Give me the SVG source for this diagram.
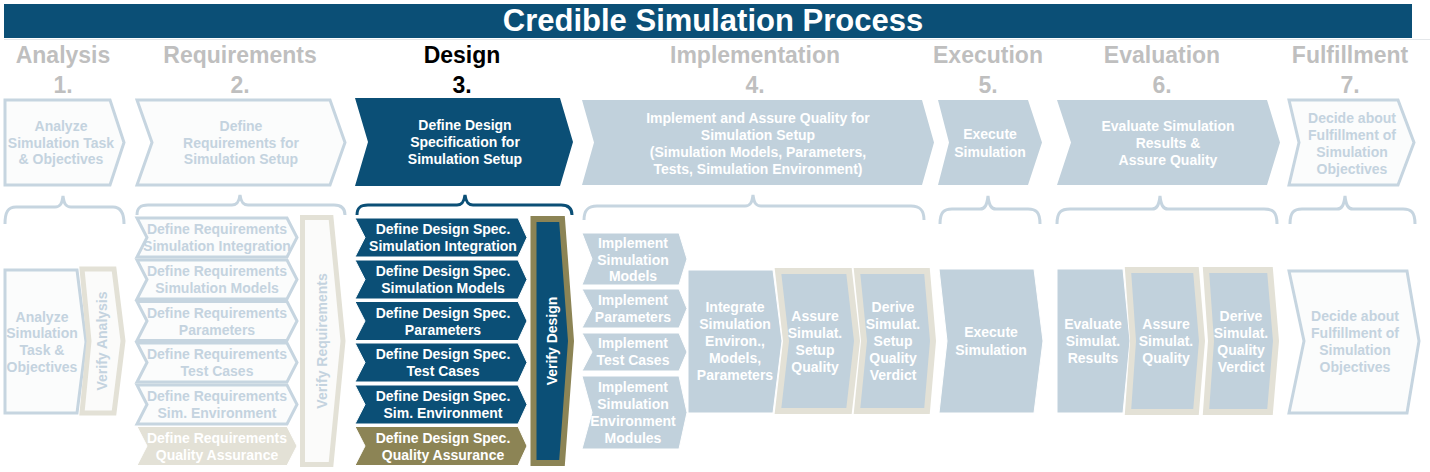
<svg xmlns="http://www.w3.org/2000/svg" width="1430" height="472" viewBox="0 0 1430 472">
<style>
text{font-family:"Liberation Sans",Arial,sans-serif;font-weight:bold;text-anchor:middle}
.title{font-size:31px;fill:#fff}
.head{font-size:23px;fill:#bfbfbf}
.headA{font-size:23px;fill:#000}
.s{font-size:14px}
.w{fill:#fff}
.p{fill:#c4d3df}
.outline{fill:#fbfcfc;stroke:#c6d5e0;stroke-width:3;stroke-linejoin:miter}
.lb{fill:#c1d1dc;stroke:#fff;stroke-width:1}
.db{fill:#0b4f76;stroke:#fff;stroke-width:1}
.ol{fill:#8c8455;stroke:#fff;stroke-width:1}
.bg{fill:#e3e1d6;stroke:#fff;stroke-width:1}
.ring{fill:#c1d1dc;stroke:#e3e1d6;stroke-width:6}
.vring{fill:#fbfbfa;stroke:#e3e1d6;stroke-width:5}
.brace{fill:none;stroke:#c6d5e0;stroke-width:3}
</style>
<rect x="0" y="0" width="1430" height="472" fill="#fff"/>
<g id="title">
<rect x="4" y="4" width="1408" height="34" fill="#0b4f76"/>
<line x1="4" y1="39.5" x2="1430" y2="39.5" stroke="#e4e7ea" stroke-width="1"/>
<text class="title" x="713" y="30.5">Credible Simulation Process</text>
</g>
<g id="headings">
<text class="head" x="63" y="63">Analysis</text><text class="head" x="63" y="93">1.</text>
<text class="head" x="240" y="63">Requirements</text><text class="head" x="240" y="93">2.</text>
<text class="headA" x="462" y="63">Design</text><text class="headA" x="462" y="93">3.</text>
<text class="head" x="755" y="63">Implementation</text><text class="head" x="755" y="93">4.</text>
<text class="head" x="988" y="63">Execution</text><text class="head" x="988" y="93">5.</text>
<text class="head" x="1162" y="63">Evaluation</text><text class="head" x="1162" y="93">6.</text>
<text class="head" x="1350" y="63">Fulfillment</text><text class="head" x="1350" y="93">7.</text>
</g>
<g id="phase1">
<path class="outline" d="M5,100 L110,100 L124,142.5 L110,185 L5,185 Z"/>
<text class="s p" x="61" y="131">Analyze</text><text class="s p" x="61" y="148">Simulation Task</text><text class="s p" x="61" y="164">&amp; Objectives</text>
</g>
<g id="phase2">
<path class="outline" d="M137,100 L330,100 L345,142.5 L330,185 L137,185 L152,142.5 Z"/>
<text class="s p" x="241" y="131">Define</text><text class="s p" x="241" y="148">Requirements for</text><text class="s p" x="241" y="164">Simulation Setup</text>
</g>
<g id="phase3">
<path d="M355,98 L560,98 L573,142 L560,186 L355,186 L368,142 Z" fill="#0b4f76"/>
<text class="s w" x="465" y="130">Define Design</text><text class="s w" x="465" y="147">Specification for</text><text class="s w" x="465" y="164">Simulation Setup</text>
</g>
<g id="phase4">
<path d="M582,100 L922,100 L934,142.5 L922,185 L582,185 L594,142.5 Z" fill="#c1d1dc"/>
<text class="s w" x="758" y="123">Implement and Assure Quality for</text><text class="s w" x="758" y="140">Simulation Setup</text><text class="s w" x="758" y="157">(Simulation Models, Parameters,</text><text class="s w" x="758" y="174">Tests, Simulation Environment)</text>
</g>
<g id="phase5">
<path d="M938,100 L1028,100 L1042,142.5 L1028,185 L938,185 L949,142.5 Z" fill="#c1d1dc"/>
<text class="s w" x="990" y="139">Execute</text><text class="s w" x="990" y="157">Simulation</text>
</g>
<g id="phase6">
<path d="M1057,100 L1267,100 L1280,142.5 L1267,185 L1057,185 L1071,142.5 Z" fill="#c1d1dc"/>
<text class="s w" x="1168" y="131">Evaluate Simulation</text><text class="s w" x="1168" y="148">Results &amp;</text><text class="s w" x="1168" y="165">Assure Quality</text>
</g>
<g id="phase7">
<path class="outline" d="M1289,100 L1398,100 L1414,142.5 L1398,185 L1289,185 L1299,142.5 Z"/>
<text class="s p" x="1352" y="123">Decide about</text><text class="s p" x="1352" y="140">Fulfillment of</text><text class="s p" x="1352" y="157">Simulation</text><text class="s p" x="1352" y="174">Objectives</text>
</g>
<g id="connectors">
<path class="brace" d="M5,224 C5,212 8,207 16,207 L55,207 C60,207 62,204 63,196 C64,204 66,207 71,207 L113,207 C120,207 124,212 124,224"/>
<path class="brace" d="M137,215 C137,208 140,205 148,205 L232,205 C237,205 239,202 240,195 C241,202 243,205 248,205 L334,205 C341,205 345,208 345,215"/>
<path class="brace" d="M357,215 C357,208 360,205 368,205 L457,205 C462,205 464,202 465,195 C466,202 468,205 473,205 L561,205 C568,205 572,208 572,215" style="stroke:#0b4f76"/>
<path class="brace" d="M584,220 C584,210 588,206 597,206 L745,206 C750,206 752,203 753,195 C754,203 756,206 761,206 L911,206 C920,206 924,210 924,220"/>
<path class="brace" d="M940,224 C940,212 944,209 952,209 L980,209 C985,209 987,205 988,196 C989,205 991,209 996,209 L1028,209 C1036,209 1040,212 1040,224"/>
<path class="brace" d="M1057,224 C1057,212 1061,209 1070,209 L1152,209 C1157,209 1159,205 1160,196 C1161,205 1163,209 1168,209 L1264,209 C1273,209 1277,212 1277,224"/>
<path class="brace" d="M1290,224 C1290,212 1294,209 1302,209 L1337,209 C1342,209 1344,205 1345,196 C1346,205 1348,209 1353,209 L1403,209 C1411,209 1415,212 1415,224"/>
</g>
<g id="analyze">
<path class="outline" d="M5,270 L77,270 L86,342 L77,413 L5,413 Z"/>
<text class="s p" x="42" y="322">Analyze</text><text class="s p" x="42" y="338">Simulation</text><text class="s p" x="42" y="355">Task &amp;</text><text class="s p" x="42" y="372">Objectives</text>
</g>
<g id="verify-analysis">
<path class="vring" d="M82,269 L114,269 L123,341 L114,413 L82,413 L89,341 Z"/>
<text class="s p" transform="translate(107,341) rotate(-90)">Verify Analysis</text>
</g>
<g id="req-items">
<path class="outline" d="M137,218 L287,218 L297,237.5 L287,257 L137,257 L147,237.5 Z"/>
<text class="s p" x="217" y="234">Define Requirements</text><text class="s p" x="217" y="251">Simulation Integration</text>
<path class="outline" d="M137,260 L287,260 L297,279.5 L287,299 L137,299 L147,279.5 Z"/>
<text class="s p" x="217" y="276">Define Requirements</text><text class="s p" x="217" y="293">Simulation Models</text>
<path class="outline" d="M137,301.5 L287,301.5 L297,321 L287,340.5 L137,340.5 L147,321 Z"/>
<text class="s p" x="217" y="317.5">Define Requirements</text><text class="s p" x="217" y="334.5">Parameters</text>
<path class="outline" d="M137,343 L287,343 L297,362.5 L287,382 L137,382 L147,362.5 Z"/>
<text class="s p" x="217" y="359">Define Requirements</text><text class="s p" x="217" y="376">Test Cases</text>
<path class="outline" d="M137,385 L287,385 L297,404.5 L287,424 L137,424 L147,404.5 Z"/>
<text class="s p" x="217" y="401">Define Requirements</text><text class="s p" x="217" y="418">Sim. Environment</text>
<path class="bg" d="M137,426.5 L287,426.5 L297,446 L287,465.5 L137,465.5 L147,446 Z"/>
<text class="s w" x="217" y="442.5">Define Requirements</text><text class="s w" x="217" y="459.5">Quality Assurance</text>
</g>
<g id="verify-requirements">
<path class="vring" d="M302.5,217.5 L331,217.5 L343,341 L331,464.5 L302.5,464.5 Z"/>
<text class="s p" transform="translate(327,341) rotate(-90)">Verify Requirements</text>
</g>
<g id="design-items">
<path class="db" d="M355,218 L518,218 L527,237.5 L518,257 L355,257 L365,237.5 Z"/>
<text class="s w" x="443" y="234">Define Design Spec.</text><text class="s w" x="443" y="251">Simulation Integration</text>
<path class="db" d="M355,260 L518,260 L527,279.5 L518,299 L355,299 L365,279.5 Z"/>
<text class="s w" x="443" y="276">Define Design Spec.</text><text class="s w" x="443" y="293">Simulation Models</text>
<path class="db" d="M355,301.5 L518,301.5 L527,321 L518,340.5 L355,340.5 L365,321 Z"/>
<text class="s w" x="443" y="317.5">Define Design Spec.</text><text class="s w" x="443" y="334.5">Parameters</text>
<path class="db" d="M355,343 L518,343 L527,362.5 L518,382 L355,382 L365,362.5 Z"/>
<text class="s w" x="443" y="359">Define Design Spec.</text><text class="s w" x="443" y="376">Test Cases</text>
<path class="db" d="M355,385 L518,385 L527,404.5 L518,424 L355,424 L365,404.5 Z"/>
<text class="s w" x="443" y="401">Define Design Spec.</text><text class="s w" x="443" y="418">Sim. Environment</text>
<path class="ol" d="M355,426.5 L518,426.5 L527,446 L518,465.5 L355,465.5 L365,446 Z"/>
<text class="s w" x="443" y="442.5">Define Design Spec.</text><text class="s w" x="443" y="459.5">Quality Assurance</text>
</g>
<g id="verify-design">
<path d="M533.5,219 L562,219 L571,341 L562,463 L533.5,463 Z" fill="#0b4f76" stroke="#8c8455" stroke-width="6"/>
<text class="s w" transform="translate(557,341) rotate(-90)">Verify Design</text>
</g>
<g id="impl-items">
<path class="lb" d="M582,233 L679,233 L687,259 L679,285 L582,285 L592,259 Z"/>
<text class="s w" x="633" y="248">Implement</text><text class="s w" x="633" y="265">Simulation</text><text class="s w" x="633" y="281">Models</text>
<path class="lb" d="M582,289 L679,289 L687,308.5 L679,328 L582,328 L592,308.5 Z"/>
<text class="s w" x="633" y="305">Implement</text><text class="s w" x="633" y="322">Parameters</text>
<path class="lb" d="M582,333 L679,333 L687,352 L679,371 L582,371 L592,352 Z"/>
<text class="s w" x="633" y="348">Implement</text><text class="s w" x="633" y="365">Test Cases</text>
<path class="lb" d="M582,376 L679,376 L687,412.5 L679,449 L582,449 L592,412.5 Z"/>
<text class="s w" x="633" y="392">Implement</text><text class="s w" x="633" y="409">Simulation</text><text class="s w" x="633" y="426">Environment</text><text class="s w" x="633" y="443">Modules</text>
</g>
<g id="integrate">
<path class="lb" d="M688,270 L773,270 L782,341 L773,413 L688,413 Z"/>
<text class="s w" x="735" y="312">Integrate</text><text class="s w" x="735" y="329">Simulation</text><text class="s w" x="735" y="346">Environ.,</text><text class="s w" x="735" y="363">Models,</text><text class="s w" x="735" y="380">Parameters</text>
</g>
<g id="assure-setup">
<path class="ring" d="M778,271 L849,271 L857,341 L849,411 L778,411 L786,341 Z"/>
<text class="s w" x="815" y="321">Assure</text><text class="s w" x="815" y="338">Simulat.</text><text class="s w" x="815" y="355">Setup</text><text class="s w" x="815" y="372">Quality</text>
</g>
<g id="derive-setup">
<path class="ring" d="M857,271 L927,271 L933,341 L927,411 L857,411 L864,341 Z"/>
<text class="s w" x="893" y="312">Derive</text><text class="s w" x="893" y="329">Simulat.</text><text class="s w" x="893" y="346">Setup</text><text class="s w" x="893" y="363">Quality</text><text class="s w" x="893" y="380">Verdict</text>
</g>
<g id="execute">
<path class="lb" d="M939,269 L1034,269 L1043,341 L1034,413 L939,413 L947,341 Z"/>
<text class="s w" x="991" y="337">Execute</text><text class="s w" x="991" y="355">Simulation</text>
</g>
<g id="evaluate">
<path class="lb" d="M1057,269 L1123,269 L1130,341 L1123,413 L1057,413 Z"/>
<text class="s w" x="1093" y="329">Evaluate</text><text class="s w" x="1093" y="346">Simulat.</text><text class="s w" x="1093" y="363">Results</text>
</g>
<g id="assure-quality">
<path class="ring" d="M1128,270 L1196,270 L1202,341 L1196,412 L1128,412 L1133,341 Z"/>
<text class="s w" x="1166" y="329">Assure</text><text class="s w" x="1166" y="346">Simulat.</text><text class="s w" x="1166" y="363">Quality</text>
</g>
<g id="derive-quality">
<path class="ring" d="M1206,270 L1270,270 L1276,341 L1270,412 L1206,412 L1211,341 Z"/>
<text class="s w" x="1241" y="321">Derive</text><text class="s w" x="1241" y="338">Simulat.</text><text class="s w" x="1241" y="355">Quality</text><text class="s w" x="1241" y="372">Verdict</text>
</g>
<g id="decide">
<path class="outline" d="M1289,271 L1407,271 L1419,341 L1407,413 L1289,413 L1304,341 Z"/>
<text class="s p" x="1355" y="321">Decide about</text><text class="s p" x="1355" y="338">Fulfillment of</text><text class="s p" x="1355" y="355">Simulation</text><text class="s p" x="1355" y="372">Objectives</text>
</g>
</svg>
